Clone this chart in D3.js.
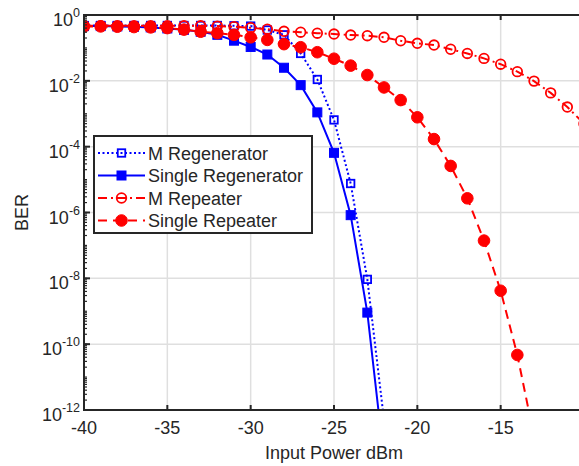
<!DOCTYPE html>
<html>
<head>
<meta charset="utf-8">
<script src="https://cdn.jsdelivr.net/npm/d3@7"></script>
<style>
  body { margin: 0; background: #fff; }
  svg { display: block; }
</style>
</head>
<body>
<div id="vis"></div>
<script>
// BER vs input power

const powerDbm = [-40, -39, -38, -37, -36, -35, -34, -33, -32, -31, -30, -29, -28, -27, -26,
  -25, -24, -23, -22, -21, -20, -19, -18, -17, -16, -15, -14, -13, -12, -11, -10];

const mRegenerator = [0.48, 0.48, 0.48, 0.48, 0.48, 0.48, 0.48, 0.48, 0.48, 0.47,
  0.46, 0.35, 0.25, 0.068, 0.011, 6.5e-4, 7.6e-6, 9.3e-9, 5e-13];

const singleRegenerator = [0.46, 0.46, 0.45, 0.44, 0.42, 0.39, 0.355, 0.31, 0.25, 0.166,
  0.107, 0.063, 0.025, 7.4e-3, 1.1e-3, 6.5e-5, 8.3e-7, 9.1e-10, 3.2e-14];

const mRepeater = [0.47, 0.47, 0.47, 0.47, 0.47, 0.47, 0.47, 0.47, 0.46, 0.44,
  0.41, 0.37, 0.32, 0.30, 0.28, 0.264, 0.246, 0.235, 0.21, 0.165,
  0.138, 0.122, 0.091, 0.068, 0.048, 0.032, 0.019, 0.0098, 0.0043, 0.0016, 5e-4];

const singleRepeater = [0.45, 0.45, 0.44, 0.43, 0.42, 0.40, 0.36, 0.31, 0.28, 0.25,
  0.21, 0.175, 0.13, 0.105, 0.074, 0.047, 0.029, 0.015, 6.3e-3, 2.6e-3,
  7.8e-4, 1.7e-4, 2.6e-5, 2.7e-6, 1.4e-7, 4.2e-9, 4.7e-11, 1.6e-13];

const seriesNames = ["M Regenerator", "Single Regenerator", "M Repeater", "Single Repeater"];
const xTicks = [-40, -35, -30, -25, -20, -15, -10];
const xLabels = ["-40", "-35", "-30", "-25", "-20", "-15", ""]; // -10 falls off the crop
const yMajor = [1e0, 1e-2, 1e-4, 1e-6, 1e-8, 1e-10, 1e-12];
const yExponents = ["0", "-2", "-4", "-6", "-8", "-10", "-12"];

const width = 579, height = 466;
const margin = {top: 15, left: 84};
const plotRight = 584, plotBottom = 410;
const ink = "#262626";
const font = "'Liberation Sans', Arial, sans-serif";

const svg = d3.select("#vis").append("svg")
  .attr("width", width)
  .attr("height", height)
  .style("font-family", font);

const x = d3.scaleLinear().domain([-40, -10]).range([margin.left, plotRight]);
const y = d3.scaleLog().domain([1e-12, 1]).range([plotBottom, margin.top]);

// grid
const grid = svg.append("g").attr("stroke", "#dfdfdf").attr("stroke-width", 1.5);
grid.selectAll("line.vx")
  .data(xTicks.slice(1, -1))
  .join("line")
  .attr("x1", d => x(d)).attr("x2", d => x(d))
  .attr("y1", margin.top).attr("y2", plotBottom);
grid.selectAll("line.hy")
  .data(yMajor.slice(1, -1))
  .join("line")
  .attr("x1", margin.left).attr("x2", plotRight)
  .attr("y1", d => y(d)).attr("y2", d => y(d));

// data lines
svg.append("clipPath").attr("id", "clip")
  .append("rect")
  .attr("x", margin.left).attr("y", margin.top)
  .attr("width", plotRight - margin.left).attr("height", plotBottom - margin.top);

const styles = [
  {values: mRegenerator, color: "#0000ff", dash: "2,2.5", marker: "square", fill: false},
  {values: singleRegenerator, color: "#0000ff", dash: null, marker: "square", fill: true},
  {values: mRepeater, color: "#ff0000", dash: "9,4,2,4", marker: "circle", fill: false},
  {values: singleRepeater, color: "#ff0000", dash: "9,6", marker: "circle", fill: true}
];

const line = d3.line().x(d => x(d[0])).y(d => y(d[1]));

function drawMarker(sel, s) {
  if (s.marker === "square") {
    const side = s.fill ? 9 : 7.5;
    sel.append("rect")
      .attr("x", -side / 2).attr("y", -side / 2)
      .attr("width", side).attr("height", side)
      .attr("fill", s.fill ? s.color : "none")
      .attr("stroke", s.color)
      .attr("stroke-width", s.fill ? 1 : 1.8);
  } else {
    sel.append("circle")
      .attr("r", s.fill ? 5.8 : 4.8)
      .attr("fill", s.fill ? s.color : "none")
      .attr("stroke", s.color)
      .attr("stroke-width", s.fill ? 1 : 1.8);
  }
}

const plot = svg.append("g").attr("clip-path", "url(#clip)");
styles.forEach(s => {
  const pts = s.values.map((v, i) => [powerDbm[i], v]);
  plot.append("path")
    .attr("d", line(pts))
    .attr("fill", "none")
    .attr("stroke", s.color)
    .attr("stroke-width", 2)
    .attr("stroke-dasharray", s.dash);
  plot.selectAll(null)
    .data(pts.filter(p => p[1] >= 1e-12))
    .join("g")
    .attr("transform", p => `translate(${x(p[0])},${y(p[1])})`)
    .each(function() { drawMarker(d3.select(this), s); });
});

// axes box
const axes = svg.append("g").attr("stroke", ink).attr("stroke-width", 2).attr("fill", "none");
axes.append("rect")
  .attr("x", margin.left).attr("y", margin.top)
  .attr("width", plotRight - margin.left).attr("height", plotBottom - margin.top);

// x ticks (inward, bottom and top)
xTicks.forEach(t => {
  axes.append("line").attr("x1", x(t)).attr("x2", x(t))
    .attr("y1", plotBottom).attr("y2", plotBottom - 5);
  axes.append("line").attr("x1", x(t)).attr("x2", x(t))
    .attr("y1", margin.top).attr("y2", margin.top + 5);
});

// y ticks, major and log minor
const minor = [];
for (let e = -12; e < 0; e++) {
  for (let k = 1; k < 10; k++) minor.push(k * Math.pow(10, e));
}
minor.forEach(v => {
  axes.append("line").attr("x1", margin.left).attr("x2", margin.left + 3)
    .attr("y1", y(v)).attr("y2", y(v)).attr("stroke-width", 1.2);
  axes.append("line").attr("x1", plotRight).attr("x2", plotRight - 3)
    .attr("y1", y(v)).attr("y2", y(v)).attr("stroke-width", 1.2);
});
yMajor.forEach(v => {
  axes.append("line").attr("x1", margin.left).attr("x2", margin.left + 6)
    .attr("y1", y(v)).attr("y2", y(v));
});

// tick labels
svg.append("g").selectAll("text")
  .data(xTicks)
  .join("text")
  .attr("x", d => x(d))
  .attr("y", 434)
  .attr("text-anchor", "middle")
  .attr("font-size", 18)
  .attr("fill", ink)
  .text((d, i) => xLabels[i]);

const yl = svg.append("g").selectAll("text")
  .data(yMajor)
  .join("text")
  .attr("x", 80)
  .attr("y", d => y(d) + 11)
  .attr("text-anchor", "end")
  .attr("font-size", 18)
  .attr("fill", ink);
yl.append("tspan").text("10");
yl.append("tspan")
  .attr("font-size", 12.5)
  .attr("dy", -9)
  .text((d, i) => yExponents[i]);

// axis titles
svg.append("text")
  .attr("x", (margin.left + plotRight) / 2)
  .attr("y", 459)
  .attr("text-anchor", "middle")
  .attr("font-size", 18)
  .attr("fill", ink)
  .text("Input Power dBm");

svg.append("text")
  .attr("transform", `translate(28, ${(margin.top + plotBottom) / 2}) rotate(-90)`)
  .attr("text-anchor", "middle")
  .attr("font-size", 18)
  .attr("fill", ink)
  .text("BER");

// legend
const lg = svg.append("g").attr("transform", "translate(94, 136)");
lg.append("rect")
  .attr("width", 218).attr("height", 97)
  .attr("fill", "#fff")
  .attr("stroke", ink).attr("stroke-width", 2);

styles.forEach((s, i) => {
  const row = lg.append("g").attr("transform", `translate(0, ${17 + i * 22.5})`);
  row.append("line")
    .attr("x1", 4).attr("x2", 51)
    .attr("stroke", s.color).attr("stroke-width", 2)
    .attr("stroke-dasharray", s.dash);
  drawMarker(row.append("g").attr("transform", "translate(27.5, 0)"), s);
  row.append("text")
    .attr("x", 54).attr("y", 6.5)
    .attr("font-size", 18)
    .attr("fill", ink)
    .text(seriesNames[i]);
});
</script>
</body>
</html>
